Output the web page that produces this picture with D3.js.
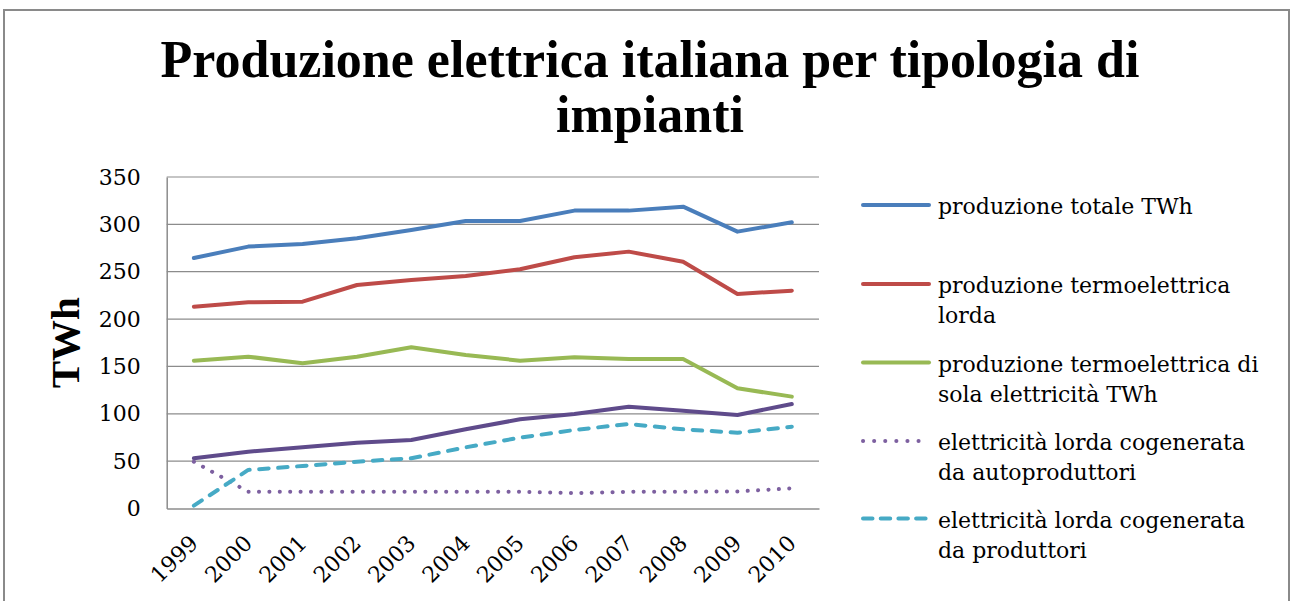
<!DOCTYPE html>
<html><head><meta charset="utf-8">
<script src="https://cdn.jsdelivr.net/npm/d3@7"></script>
<style>
html,body{margin:0;padding:0;background:#fff;}
svg{display:block;}
</style></head>
<body>
<svg id="c" width="1293" height="601"></svg>
<script>
const years = ["1999","2000","2001","2002","2003","2004","2005","2006","2007","2008","2009","2010"];
const totale = [264.5,276.5,279.3,285.3,294,303.6,303.6,314.5,314.5,318.7,292.3,302.2];
const termoLorda = [213.1,217.7,218.4,236,241.3,245.5,252.6,265.3,271.2,260.6,226.5,230];
const termoSola = [156.1,160.3,153.3,160.3,170.2,162.1,156.1,159.7,157.9,157.9,126.9,118.1];
const cogenTotale = [53,60,64.6,69.5,72.3,83.6,94.2,99.8,107.5,103.3,98.7,110.3];
const cogenAuto = [49.4,17.7,17.7,17.7,17.7,17.7,17.7,16.3,17.7,17.7,18,21.3];
const cogenProd = [3,40.7,44.9,49.4,53,64.6,74.8,82.9,89.2,83.6,80,86.4];
const yTicks = [0,50,100,150,200,250,300,350];
const titleLines = ["Produzione elettrica italiana per tipologia di","impianti"];
const yLabel = "TWh";

const series = [
  {name:["produzione totale TWh"], values: totale, color:"#4A7EBB", dash:null, legend:true},
  {name:["produzione termoelettrica","lorda"], values: termoLorda, color:"#BE4B48", dash:null, legend:true},
  {name:["produzione termoelettrica di","sola elettricità TWh"], values: termoSola, color:"#98B954", dash:null, legend:true},
  {name:["elettricità lorda cogenerata totale"], values: cogenTotale, color:"#5F4B8B", dash:null, legend:false},
  {name:["elettricità lorda cogenerata","da autoproduttori"], values: cogenAuto, color:"#7D60A0", dash:"0.1,10.3", legend:true},
  {name:["elettricità lorda cogenerata","da produttori"], values: cogenProd, color:"#46AAC5", dash:"9.5,9.5", legend:true}
];

const svg = d3.select("#c");
svg.append("rect").attr("x",0).attr("y",0).attr("width",1293).attr("height",601).attr("fill","#fff");
// outer frame
svg.append("rect").attr("x",4).attr("y",10).attr("width",1285).attr("height",600)
  .attr("fill","none").attr("stroke","#8a8a8a").attr("stroke-width",2);

const L=166.7, R=819, T=177, B=508.5;
const x = d3.scalePoint().domain(years).range([L,R]).padding(0.5);
const y = d3.scaleLinear().domain([0,350]).range([B,T]);

// gridlines
svg.append("g").selectAll("line").data(yTicks.filter(d=>d>0)).join("line")
  .attr("x1",L).attr("x2",R).attr("y1",d=>y(d)).attr("y2",d=>y(d))
  .attr("stroke","#8c8c8c").attr("stroke-width",1.2);

// y axis
const yAxis = d3.axisLeft(y).tickValues(yTicks).tickSize(0).tickPadding(26).tickFormat(d3.format("d"));
const gy = svg.append("g").attr("transform",`translate(${L},0)`).call(yAxis);
gy.select(".domain").attr("stroke","#8c8c8c").attr("stroke-width",1.5);
gy.selectAll("text").attr("font-family","DejaVu Serif").attr("font-size",22).attr("fill","#000");

// x axis
const xAxis = d3.axisBottom(x).tickSize(0).tickPadding(0);
const gx = svg.append("g").attr("transform",`translate(0,${B})`).call(xAxis);
gx.select(".domain").attr("stroke","#8c8c8c").attr("stroke-width",1.5);
gx.selectAll("text").attr("font-family","DejaVu Serif").attr("font-size",22).attr("fill","#000")
  .attr("text-anchor","end").attr("dy",null).attr("y",null)
  .attr("transform","translate(5,36) rotate(-45)");

// lines
const line = d3.line().x((d,i)=>x(years[i])).y(d=>y(d));
svg.append("g").selectAll("path").data(series).join("path")
  .attr("d",d=>line(d.values)).attr("fill","none")
  .attr("stroke",d=>d.color).attr("stroke-width",4)
  .attr("stroke-linecap","round").attr("stroke-linejoin","round")
  .attr("stroke-dasharray",d=>d.dash);

// title
svg.append("g").selectAll("text").data(titleLines).join("text")
  .attr("x",650).attr("y",(d,i)=>77+i*55)
  .attr("text-anchor","middle").attr("font-family","Liberation Serif").attr("font-weight","bold")
  .attr("font-size",52).attr("fill","#000").text(d=>d);

// y label
svg.append("text").attr("transform",`translate(79,${(T+B)/2}) rotate(-90)`)
  .attr("text-anchor","middle").attr("font-family","Liberation Serif").attr("font-weight","bold")
  .attr("font-size",41).attr("fill","#000").text(yLabel);

// legend
const legSeries = series.filter(s=>s.legend);
const legY = [205,284,362.5,441,518.5];
const lg = svg.append("g");
legSeries.forEach((s,i)=>{
  const g = lg.append("g").attr("transform",`translate(0,${legY[i]})`);
  g.append("line").attr("x1",863).attr("x2",929).attr("y1",0).attr("y2",0)
    .attr("stroke",s.color).attr("stroke-width",4).attr("stroke-linecap","round")
    .attr("stroke-dasharray", s.dash ? (s.dash.startsWith("0.1") ? "0.1,11" : "9.5,8.2") : null);
  const t = g.append("text").attr("x",938).attr("y",9).attr("font-family","DejaVu Serif")
    .attr("font-size",22).attr("fill","#000");
  s.name.forEach((n,j)=>{
    t.append("tspan").attr("x",938).attr("dy",j===0?0:30).text(n);
  });
});
</script>
</body></html>
